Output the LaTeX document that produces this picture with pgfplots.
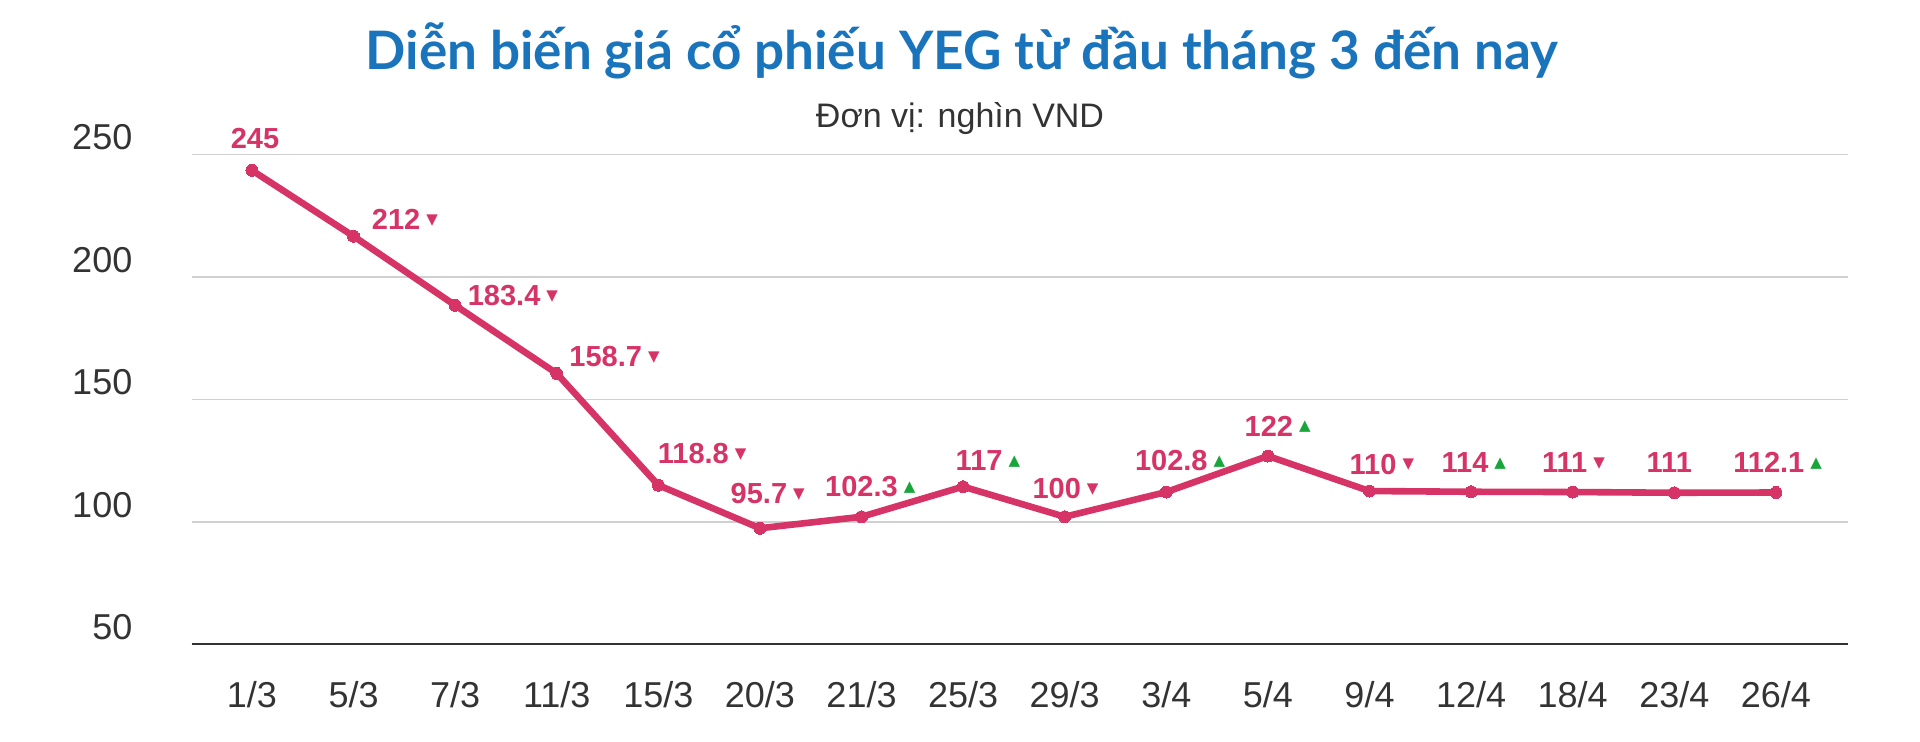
\documentclass[border=0pt]{standalone}
\usepackage{fontspec}
\setmainfont{Liberation Sans}
\newfontfamily\titlefont{Lato}
\newfontfamily\symfont{DejaVu Sans}
\usepackage{pgfplots}
\pgfplotsset{compat=1.18}
\usepackage{pgfplotstable}
\definecolor{crim}{HTML}{D63366}
\definecolor{upg}{HTML}{17A63A}
\definecolor{ttl}{HTML}{1A74BB}
\definecolor{tickc}{HTML}{333333}
\definecolor{grd}{HTML}{D0D0D0}
\newcommand{\dn}{\rlap{\hspace{3pt}\raisebox{2.6pt}{\symfont\fontsize{7.5}{8}\selectfont\textcolor{crim}{▼}}}}
\newcommand{\up}{\rlap{\hspace{3pt}\raisebox{2.6pt}{\symfont\fontsize{7.5}{8}\selectfont\textcolor{upg}{▲}}}}

\pgfplotstableread{
x y lbl dx dy
0 243.5 {245} 1.5 16
1 216.6 {212\dn} 21.3 8.2
2 188.4 {183.4\dn} 24.5 5
3 160.6 {158.7\dn} 24.5 8.3
4 115.0 {118.8\dn} 17.5 15.9
5 97.4 {95.7\dn} -0.5 17.5
6 102.1 {102.3\up} 0 15
7 114.4 {117\up} 8 13
8 102.1 {100\dn} -4 14
9 112.2 {102.8\up} 2.5 15.8
10 126.9 {122\up} 0.5 15
11 112.6 {110\dn} 1.8 13.5
12 112.3 {114\up} -3 14.5
13 112.2 {111\dn} -4 14.5
14 111.9 {111} -2.5 15.3
15 112.0 {112.1\up} -3.5 15
}\datatable

\begin{document}
\begin{tikzpicture}
\path[use as bounding box] (0,0) rectangle (960pt,370.5pt);
\node[font=\titlefont\bfseries\fontsize{26.5}{30}\selectfont, text=ttl] at (481pt,345pt) {Diễn biến giá cổ phiếu YEG từ đầu tháng 3 đến nay};
\node[font=\fontsize{17}{20}\selectfont, text=tickc] at (480pt,311pt) {Đơn vị: nghìn VND};
\begin{axis}[
  at={(95.85pt,48.3pt)}, anchor=south west,
  scale only axis, width=828.15pt, height=245pt,
  xmin=-0.593, xmax=15.71, ymin=50, ymax=250,
  clip=false,
  axis x line*=bottom, axis y line*=left,
  y axis line style={draw=none},
  x axis line style={draw=tickc, line width=1pt},
  tick align=inside, major tick length=0pt,
  xtick={0,...,15},
  xticklabels={1/3,5/3,7/3,11/3,15/3,20/3,21/3,25/3,29/3,3/4,5/4,9/4,12/4,18/4,23/4,26/4},
  ytick={50,100,150,200,250},
  yticklabels={50,100,150,200,250},
  ymajorgrids, grid style={grd, line width=0.85pt},
  xticklabel style={anchor=center, inner sep=0pt, yshift=-25pt, font=\fontsize{18}{20}\selectfont, text=tickc},
  yticklabel style={anchor=east, inner sep=0pt, xshift=-29.5pt, yshift=8.5pt, font=\fontsize{18}{20}\selectfont, text=tickc},
  point meta=explicit symbolic,
  visualization depends on={\thisrow{dx} \as \ldx},
  visualization depends on={\thisrow{dy} \as \ldy},
  nodes near coords,
  nodes near coords style={anchor=center, inner sep=0pt, xshift=\ldx pt, yshift=\ldy pt, font=\fontsize{14.5}{16}\selectfont\bfseries, text=crim},
]
\addplot[crim, line width=3.3pt, mark=*, mark size=3pt, mark options={fill=crim, draw=crim, line width=0pt}]
  table[x=x, y=y, meta=lbl] {\datatable};
\end{axis}
\end{tikzpicture}
\end{document}
